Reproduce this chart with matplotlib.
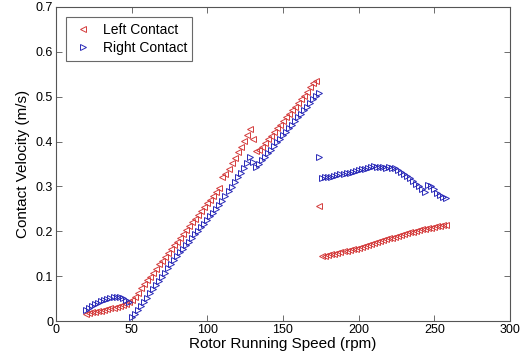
import matplotlib
matplotlib.use("Agg")
import matplotlib.pyplot as plt

plt.rcParams['font.family'] = ['Liberation Sans', 'DejaVu Sans']

# rotor speed (rpm), first run
speed_a = [20, 22, 24, 26, 28, 30, 32, 34, 36, 38, 40, 42, 44, 46, 48,
           50, 52, 54, 56, 58, 60, 62, 64, 66, 68, 70, 72, 74, 76, 78,
           80, 82, 84, 86, 88, 90, 92, 94, 96, 98, 100, 102, 104, 106, 108,
           110, 112, 114, 116, 118, 120, 122, 124, 126, 128, 130, 132, 134, 136, 138,
           140, 142, 144, 146, 148, 150, 152, 154, 156, 158, 160, 162, 164, 166, 168,
           170, 172]
left_a = [0.016, 0.017, 0.019, 0.020, 0.022, 0.023, 0.025, 0.026, 0.028, 0.030,
          0.032, 0.034, 0.036, 0.039, 0.042, 0.046, 0.054, 0.063, 0.073, 0.082,
          0.091, 0.099, 0.108, 0.117, 0.126, 0.134, 0.143, 0.152, 0.160, 0.169,
          0.177, 0.186, 0.194, 0.203, 0.211, 0.220, 0.228, 0.237, 0.245, 0.254,
          0.262, 0.270, 0.279, 0.287, 0.296, 0.320, 0.327, 0.339, 0.352, 0.364,
          0.377, 0.389, 0.402, 0.414, 0.428, 0.405, 0.378, 0.381, 0.389, 0.397,
          0.405, 0.413, 0.421, 0.430, 0.438, 0.446, 0.454, 0.462, 0.470, 0.478,
          0.486, 0.494, 0.502, 0.511, 0.521, 0.530, 0.535]
# right contact carries on one step further (174 rpm)
speed_ra = speed_a + [174]
right_a = [0.025, 0.029, 0.033, 0.037, 0.041, 0.044, 0.047, 0.050, 0.052, 0.053,
           0.054, 0.053, 0.051, 0.047, 0.042, 0.008, 0.016, 0.025, 0.034, 0.043,
           0.052, 0.062, 0.071, 0.080, 0.090, 0.099, 0.108, 0.118, 0.127, 0.137,
           0.145, 0.153, 0.161, 0.169, 0.177, 0.185, 0.193, 0.201, 0.209, 0.217,
           0.225, 0.233, 0.241, 0.250, 0.258, 0.268, 0.278, 0.289, 0.299, 0.310,
           0.320, 0.331, 0.342, 0.353, 0.366, 0.355, 0.343, 0.350, 0.358, 0.366,
           0.374, 0.382, 0.390, 0.398, 0.406, 0.414, 0.422, 0.430, 0.438, 0.446,
           0.454, 0.462, 0.470, 0.478, 0.486, 0.494, 0.502, 0.508]

# transition point
speed_t = [174]
left_t = [0.256]
right_t = [0.366]

# second run
speed_b = [176, 178, 180, 182, 184, 186, 188, 190, 192, 194, 196, 198, 200, 202,
           204, 206, 208, 210, 212, 214, 216, 218, 220, 222, 224, 226, 228, 230,
           232, 234, 236, 238, 240, 242, 244, 246, 248, 250, 252, 254, 256, 258]
left_b = [0.145, 0.146, 0.148, 0.149, 0.150, 0.152, 0.153, 0.155, 0.156, 0.158,
          0.160, 0.161, 0.163, 0.166, 0.167, 0.170, 0.172, 0.175, 0.177, 0.179,
          0.181, 0.182, 0.184, 0.186, 0.188, 0.190, 0.192, 0.194, 0.196, 0.198,
          0.199, 0.201, 0.203, 0.204, 0.206, 0.207, 0.208, 0.210, 0.211, 0.212,
          0.213, 0.214]
right_b = [0.318, 0.320, 0.321, 0.322, 0.324, 0.325, 0.327, 0.328, 0.330, 0.331,
           0.333, 0.334, 0.336, 0.338, 0.339, 0.341, 0.343, 0.345, 0.344, 0.343,
           0.344, 0.342, 0.343, 0.341, 0.340, 0.337, 0.333, 0.328, 0.323, 0.318,
           0.312, 0.306, 0.300, 0.294, 0.288, 0.304, 0.300, 0.294, 0.285, 0.280,
           0.277, 0.274]

red = '#d43c3c'
blue = '#2a2ab8'

left_x = speed_a + speed_t + speed_b
left_y = left_a + left_t + left_b
right_x = speed_ra + speed_t + speed_b
right_y = right_a + right_t + right_b

fig = plt.figure(figsize=(5.26, 3.6), dpi=100)
ax = fig.add_axes([0.1065, 0.1083, 0.863, 0.8723])

ax.plot(left_x, left_y, ls='none', marker='<', ms=4.5, mfc='none',
        mec=red, mew=0.7, label='Left Contact')
ax.plot(right_x, right_y, ls='none', marker='>', ms=4.5, mfc='none',
        mec=blue, mew=0.7, label='Right Contact')

ax.set_xlim(0, 300)
ax.set_ylim(0, 0.7)
ax.set_xticks([0, 50, 100, 150, 200, 250, 300])
ax.set_yticks([0, 0.1, 0.2, 0.3, 0.4, 0.5, 0.6, 0.7])
ax.set_yticklabels(['0', '0.1', '0.2', '0.3', '0.4', '0.5', '0.6', '0.7'])
ax.tick_params(direction='in', top=True, right=True, labelsize=9,
               length=4, width=0.6, color='#555555', pad=2)
for s in ax.spines.values():
    s.set_color('#555555')
    s.set_linewidth(0.8)

ax.set_xlabel('Rotor Running Speed (rpm)', fontsize=11, labelpad=1)
ax.set_ylabel('Contact Velocity (m/s)', fontsize=11, labelpad=4)

leg = ax.legend(loc='upper left', fontsize=10, frameon=True, fancybox=False,
                borderpad=0.4, handletextpad=0.6, labelspacing=0.3,
                handlelength=1.6, borderaxespad=0.75)
leg.get_frame().set_edgecolor('#444444')
leg.get_frame().set_linewidth(0.8)

fig.savefig('out.png', dpi=100)
